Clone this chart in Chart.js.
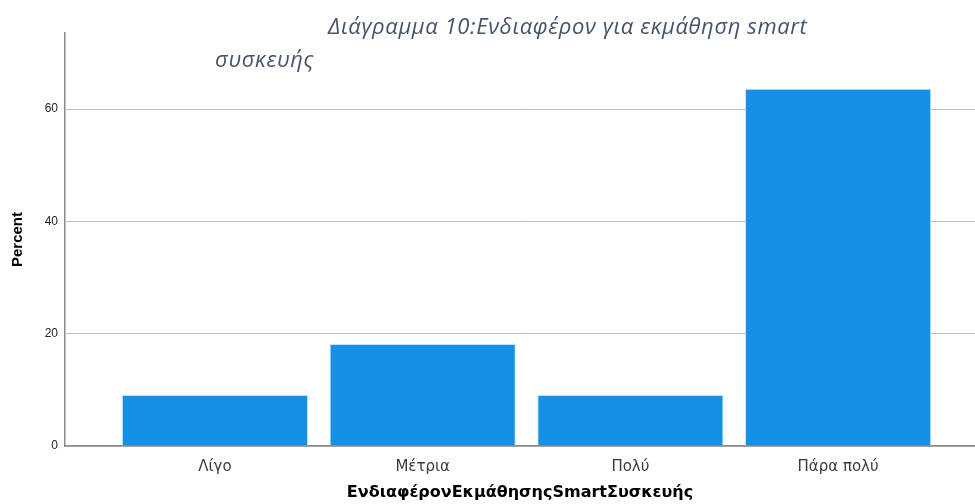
<!DOCTYPE html>
<html>
<head>
<meta charset="utf-8">
<script src="https://cdn.jsdelivr.net/npm/chart.js@4"></script>
<style>
  body { margin: 0; background: #fff; }
  #wrap { position: relative; width: 975px; height: 504px; }
  .title { position: absolute; font-family: "Open Sans", sans-serif; font-style: italic;
           font-size: 22px; color: #44546A; white-space: nowrap; letter-spacing: 0.6px; }
</style>
</head>
<body>
<div id="wrap">
  <canvas id="chart" width="975" height="504"></canvas>
  <div class="title" style="left:328px; top:10px;">Διάγραμμα 10:Ενδιαφέρον για εκμάθηση smart</div>
  <div class="title" style="left:215px; top:43px;">συσκευής</div>
</div>
<script>
// τιμές διαγράμματος
const categories = ["Λίγο", "Μέτρια", "Πολύ", "Πάρα πολύ"];
const percents = [9.09, 18.18, 9.09, 63.64];
const yTicks = [0, 20, 40, 60];
const xTitle = "ΕνδιαφέρονΕκμάθησηςSmartΣυσκευής";
const yTitle = "Percent";

const ctx = document.getElementById("chart").getContext("2d");

new Chart(ctx, {
  type: "bar",
  data: {
    datasets: [
      {
        data: percents.map((v, i) => ({ x: i, y: v })),
        backgroundColor: "#1490E6",
        borderColor: "#BFE0F8",
        borderWidth: { top: 1, left: 1, right: 1, bottom: 0 },
        barPercentage: 0.896,
        categoryPercentage: 1,
      },
    ],
  },
  options: {
    responsive: false,
    animation: false,
    layout: { padding: { top: 33, right: 0, bottom: 0, left: 0 } },
    plugins: { legend: { display: false }, tooltip: { enabled: false } },
    scales: {
      x: {
        type: "linear",
        offset: false,
        min: -0.722,
        max: 3.659,
        afterBuildTicks: (axis) => {
          axis.ticks = categories.map((c, i) => ({ value: i }));
        },
        afterFit: (axis) => { axis.height = 58; },
        grid: { display: false },
        border: { display: true, color: "#8a8a8a", width: 1.5 },
        ticks: {
          padding: 4,
          color: "#3a3a3a",
          font: { family: "'DejaVu Sans'", size: 15 },
          callback: (v) => categories[v],
        },
        title: {
          display: true,
          text: xTitle,
          color: "#000",
          font: { family: "'DejaVu Sans'", size: 16, weight: "bold" },
          padding: { top: 4, bottom: 2 },
        },
      },
      y: {
        min: 0,
        max: 73.57,
        afterBuildTicks: (axis) => {
          axis.ticks = yTicks.map((v) => ({ value: v }));
        },
        afterFit: (axis) => { axis.width = 65; },
        grid: { color: "#bdbdbd", lineWidth: 1, drawTicks: false },
        border: { display: true, color: "#8a8a8a", width: 1.5 },
        ticks: {
          padding: 7,
          color: "#222",
          font: { family: "Arial, 'Liberation Sans'", size: 12 },
        },
        title: {
          display: true,
          text: yTitle,
          color: "#000",
          font: { family: "Arial, 'Liberation Sans'", size: 15, weight: "bold" },
          padding: { top: 9, bottom: 0 },
        },
      },
    },
  },
});
</script>
</body>
</html>
